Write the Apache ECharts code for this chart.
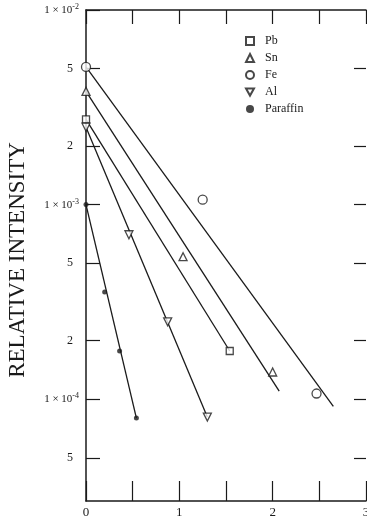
<!DOCTYPE html>
<html>
<head>
<meta charset="utf-8">
<script src="https://cdn.jsdelivr.net/npm/echarts@6/dist/echarts.min.js"></script>
<style>
  html, body { margin: 0; padding: 0; background: #fff; }
  #chart { width: 367px; height: 522px; }
</style>
</head>
<body>
<div id="chart"></div>
<script>
// measured points (absorber thickness, relative intensity)
const pbPoints = [[0, 2.74e-3], [1.54, 1.77e-4]];
const snPoints = [[0, 3.82e-3], [1.04, 5.4e-4], [2.0, 1.38e-4]];
const fePoints = [[0, 5.1e-3], [1.25, 1.06e-3], [2.47, 1.07e-4]];
const alPoints = [[0, 2.5e-3], [0.46, 7.0e-4], [0.875, 2.5e-4], [1.30, 8.1e-5]];
const paraffinPoints = [[0, 1.0e-3], [0.2, 3.56e-4], [0.36, 1.77e-4], [0.54, 8.0e-5]];

// fitted straight lines (start, end)
const pbFit = [[0, 2.74e-3], [1.54, 1.77e-4]];
const snFit = [[0, 3.82e-3], [2.07, 1.1e-4]];
const feFit = [[0, 5.1e-3], [2.65, 9.2e-5]];
const alFit = [[0, 2.5e-3], [1.30, 8.1e-5]];
const paraffinFit = [[0, 1.0e-3], [0.54, 8.0e-5]];

const yTicks = [1e-2, 5e-3, 2e-3, 1e-3, 5e-4, 2e-4, 1e-4, 5e-5];
const yTickLabels = ['1 × 10|-2', '5', '2', '1 × 10|-3', '5', '2', '1 × 10|-4', '5'];

const ink = '#1a1a1a';
const serif = '"Liberation Serif", "DejaVu Serif", serif';

var myChart = echarts.init(document.getElementById('chart'));

function yLabel(v) {
  const i = yTicks.findIndex(t => Math.abs(Math.log10(t) - Math.log10(v)) < 1e-4);
  if (i < 0) return '';
  const s = yTickLabels[i];
  if (s.indexOf('|') >= 0) {
    const parts = s.split('|');
    return '{a|' + parts[0] + '}{s|' + parts[1] + '}';
  }
  return '{d|' + s + '}';
}

const markerStyle = { color: '#fff', borderColor: ink, borderWidth: 1.3 };

function fitSeries(name, data) {
  return {
    name: name, type: 'line', data: data, symbol: 'none', silent: true,
    lineStyle: { color: ink, width: 1.3 }, z: 2
  };
}

function pointSeries(name, data, symbol, size, style) {
  return {
    name: name, type: 'scatter', data: data, symbol: symbol, symbolSize: size,
    itemStyle: style || markerStyle, z: 3
  };
}

const yAxisBase = {
  type: 'log', logBase: 10, min: 3e-5, max: 1e-2,
  splitLine: { show: false }
};

option = {
  animation: false,
  grid: { left: 86, right: 1, top: 10, bottom: 21, outerBoundsMode: 'none', containLabel: false },
  legend: {
    orient: 'vertical', left: 240, top: 30,
    itemWidth: 8, itemHeight: 8, itemGap: 5,
    data: ['Pb', 'Sn', 'Fe', 'Al', 'Paraffin'],
    textStyle: { fontFamily: serif, fontSize: 12, color: ink, padding: [0, 0, 0, 6], lineHeight: 11 }
  },
  graphic: [{
    type: 'text', x: 18, y: 260, rotation: Math.PI / 2,
    style: {
      text: 'RELATIVE INTENSITY', fontFamily: serif, fontSize: 23, fill: ink,
      align: 'center', verticalAlign: 'middle'
    }
  }],
  xAxis: [{
    type: 'value', min: 0, max: 3, interval: 0.5, position: 'bottom',
    splitLine: { show: false },
    axisLine: { onZero: false, lineStyle: { color: ink, width: 1.5 } },
    axisTick: { inside: true, length: 20, lineStyle: { color: ink, width: 1.2 } },
    axisLabel: {
      margin: 5, fontFamily: serif, fontSize: 13, color: ink,
      formatter: v => (Number.isInteger(v) ? String(v) : '')
    }
  }, {
    type: 'value', min: 0, max: 3, interval: 0.5, position: 'top',
    splitLine: { show: false },
    axisLine: { onZero: false, lineStyle: { color: ink, width: 1.5 } },
    axisTick: { inside: true, length: 14, lineStyle: { color: ink, width: 1.2 } },
    axisLabel: { show: false }
  }],
  yAxis: [Object.assign({}, yAxisBase, {
    position: 'left',
    axisLine: { show: true, onZero: false, lineStyle: { color: ink, width: 1.5 } },
    axisTick: { inside: true, length: 14, customValues: yTicks, lineStyle: { color: ink, width: 1.2 } },
    axisLabel: {
      margin: 7, customValues: yTicks, formatter: yLabel,
      rich: {
        a: { fontFamily: serif, fontSize: 11, color: ink },
        s: { fontFamily: serif, fontSize: 8, color: ink, verticalAlign: 'top', padding: [0, 0, 6, 0] },
        d: { fontFamily: serif, fontSize: 12, color: ink, padding: [0, 6, 0, 0] }
      }
    }
  }), Object.assign({}, yAxisBase, {
    position: 'right',
    axisLine: { show: false, onZero: false },
    axisTick: { show: true, inside: true, length: 12, customValues: yTicks.slice(1), lineStyle: { color: ink, width: 1.2 } },
    axisLabel: { show: false }
  })],
  series: [
    fitSeries('Pb fit', pbFit),
    fitSeries('Sn fit', snFit),
    fitSeries('Fe fit', feFit),
    fitSeries('Al fit', alFit),
    fitSeries('Paraffin fit', paraffinFit),
    pointSeries('Pb', pbPoints, 'rect', 7),
    pointSeries('Sn', snPoints, 'triangle', 8),
    pointSeries('Fe', fePoints, 'circle', 9),
    pointSeries('Al', alPoints, 'path://M0,0 L10,0 L5,9 Z', 8),
    pointSeries('Paraffin', paraffinPoints, 'circle', 5, { color: ink })
  ]
};

option && myChart.setOption(option);
</script>
</body>
</html>
